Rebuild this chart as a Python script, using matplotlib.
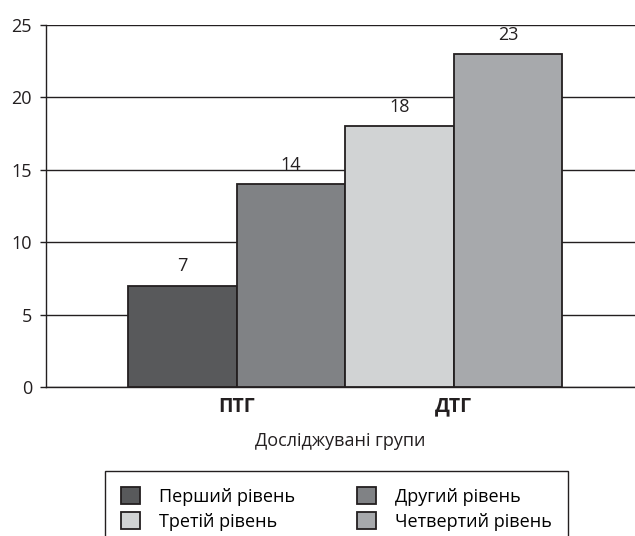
import matplotlib
matplotlib.use("Agg")
import matplotlib.pyplot as plt
from matplotlib.patches import Patch

plt.rcParams['font.family'] = ['Open Sans', 'DejaVu Sans']

groups = ["ПТГ", "ДТГ"]
levels = ["Перший рівень", "Другий рівень", "Третій рівень", "Четвертий рівень"]
values = [7, 14, 18, 23]
level_group = [0, 0, 1, 1]          # which group each level's bar belongs to
level_colors = ["#58595b", "#808285", "#d1d3d4", "#a7a9ac"]
yticks = [0, 5, 10, 15, 20, 25]

INK = "#231f20"
W = 0.5
FS = 13

fig = plt.figure(figsize=(6.35, 5.36), dpi=100)
ax = fig.add_axes([46 / 635, 1 - 387 / 536, 1 - 46 / 635, (387 - 25) / 536])

# ── bars: two per group, side by side ───────────────────────────────────────
seen = {}
for name, v, g, c in zip(levels, values, level_group, level_colors):
    k = seen.get(g, 0)
    seen[g] = k + 1
    x = g + (k - 0.5) * W
    ax.bar(x, v, width=W, color=c, edgecolor=INK, linewidth=1.3, zorder=3)
    ax.annotate(str(v), (x, v), xytext=(0, 7.5), textcoords="offset points",
                ha="center", va="bottom", fontsize=FS, color=INK)

ax.set_xlim(-0.88, 1.835)
ax.set_ylim(0, 25)
ax.set_yticks(yticks)
ax.set_xticks(range(len(groups)))
ax.set_xticklabels(groups, fontweight="bold", fontsize=14, color=INK)
ax.tick_params(axis="x", length=0, pad=7)
ax.tick_params(axis="y", length=4, width=1, color=INK, labelsize=FS,
               labelcolor=INK, pad=6)
ax.set_xlabel("Досліджувані групи", fontsize=FS, color=INK, labelpad=11)

ax.grid(axis="y", color=INK, linewidth=1, zorder=0)
for s in ["top", "right"]:
    ax.spines[s].set_visible(False)
for s in ["left", "bottom"]:
    ax.spines[s].set_color(INK)
    ax.spines[s].set_linewidth(1)

handles = [Patch(facecolor=c, edgecolor=INK, linewidth=1.3) for c in level_colors]
# row-major order like the reference: (1,2) top row, (3,4) bottom row
order = [0, 2, 1, 3]
fig.legend([handles[i] for i in order], [levels[i] for i in order],
           loc="upper left", bbox_to_anchor=(105 / 635, 1 - 471 / 536),
           ncol=2, fontsize=FS, frameon=True, fancybox=False, framealpha=1,
           edgecolor=INK, borderpad=0.9, handlelength=1.05, handleheight=1.05,
           handletextpad=1.05, labelspacing=0.35, columnspacing=3.4,
           borderaxespad=0)

fig.savefig("out.png", dpi=100)
